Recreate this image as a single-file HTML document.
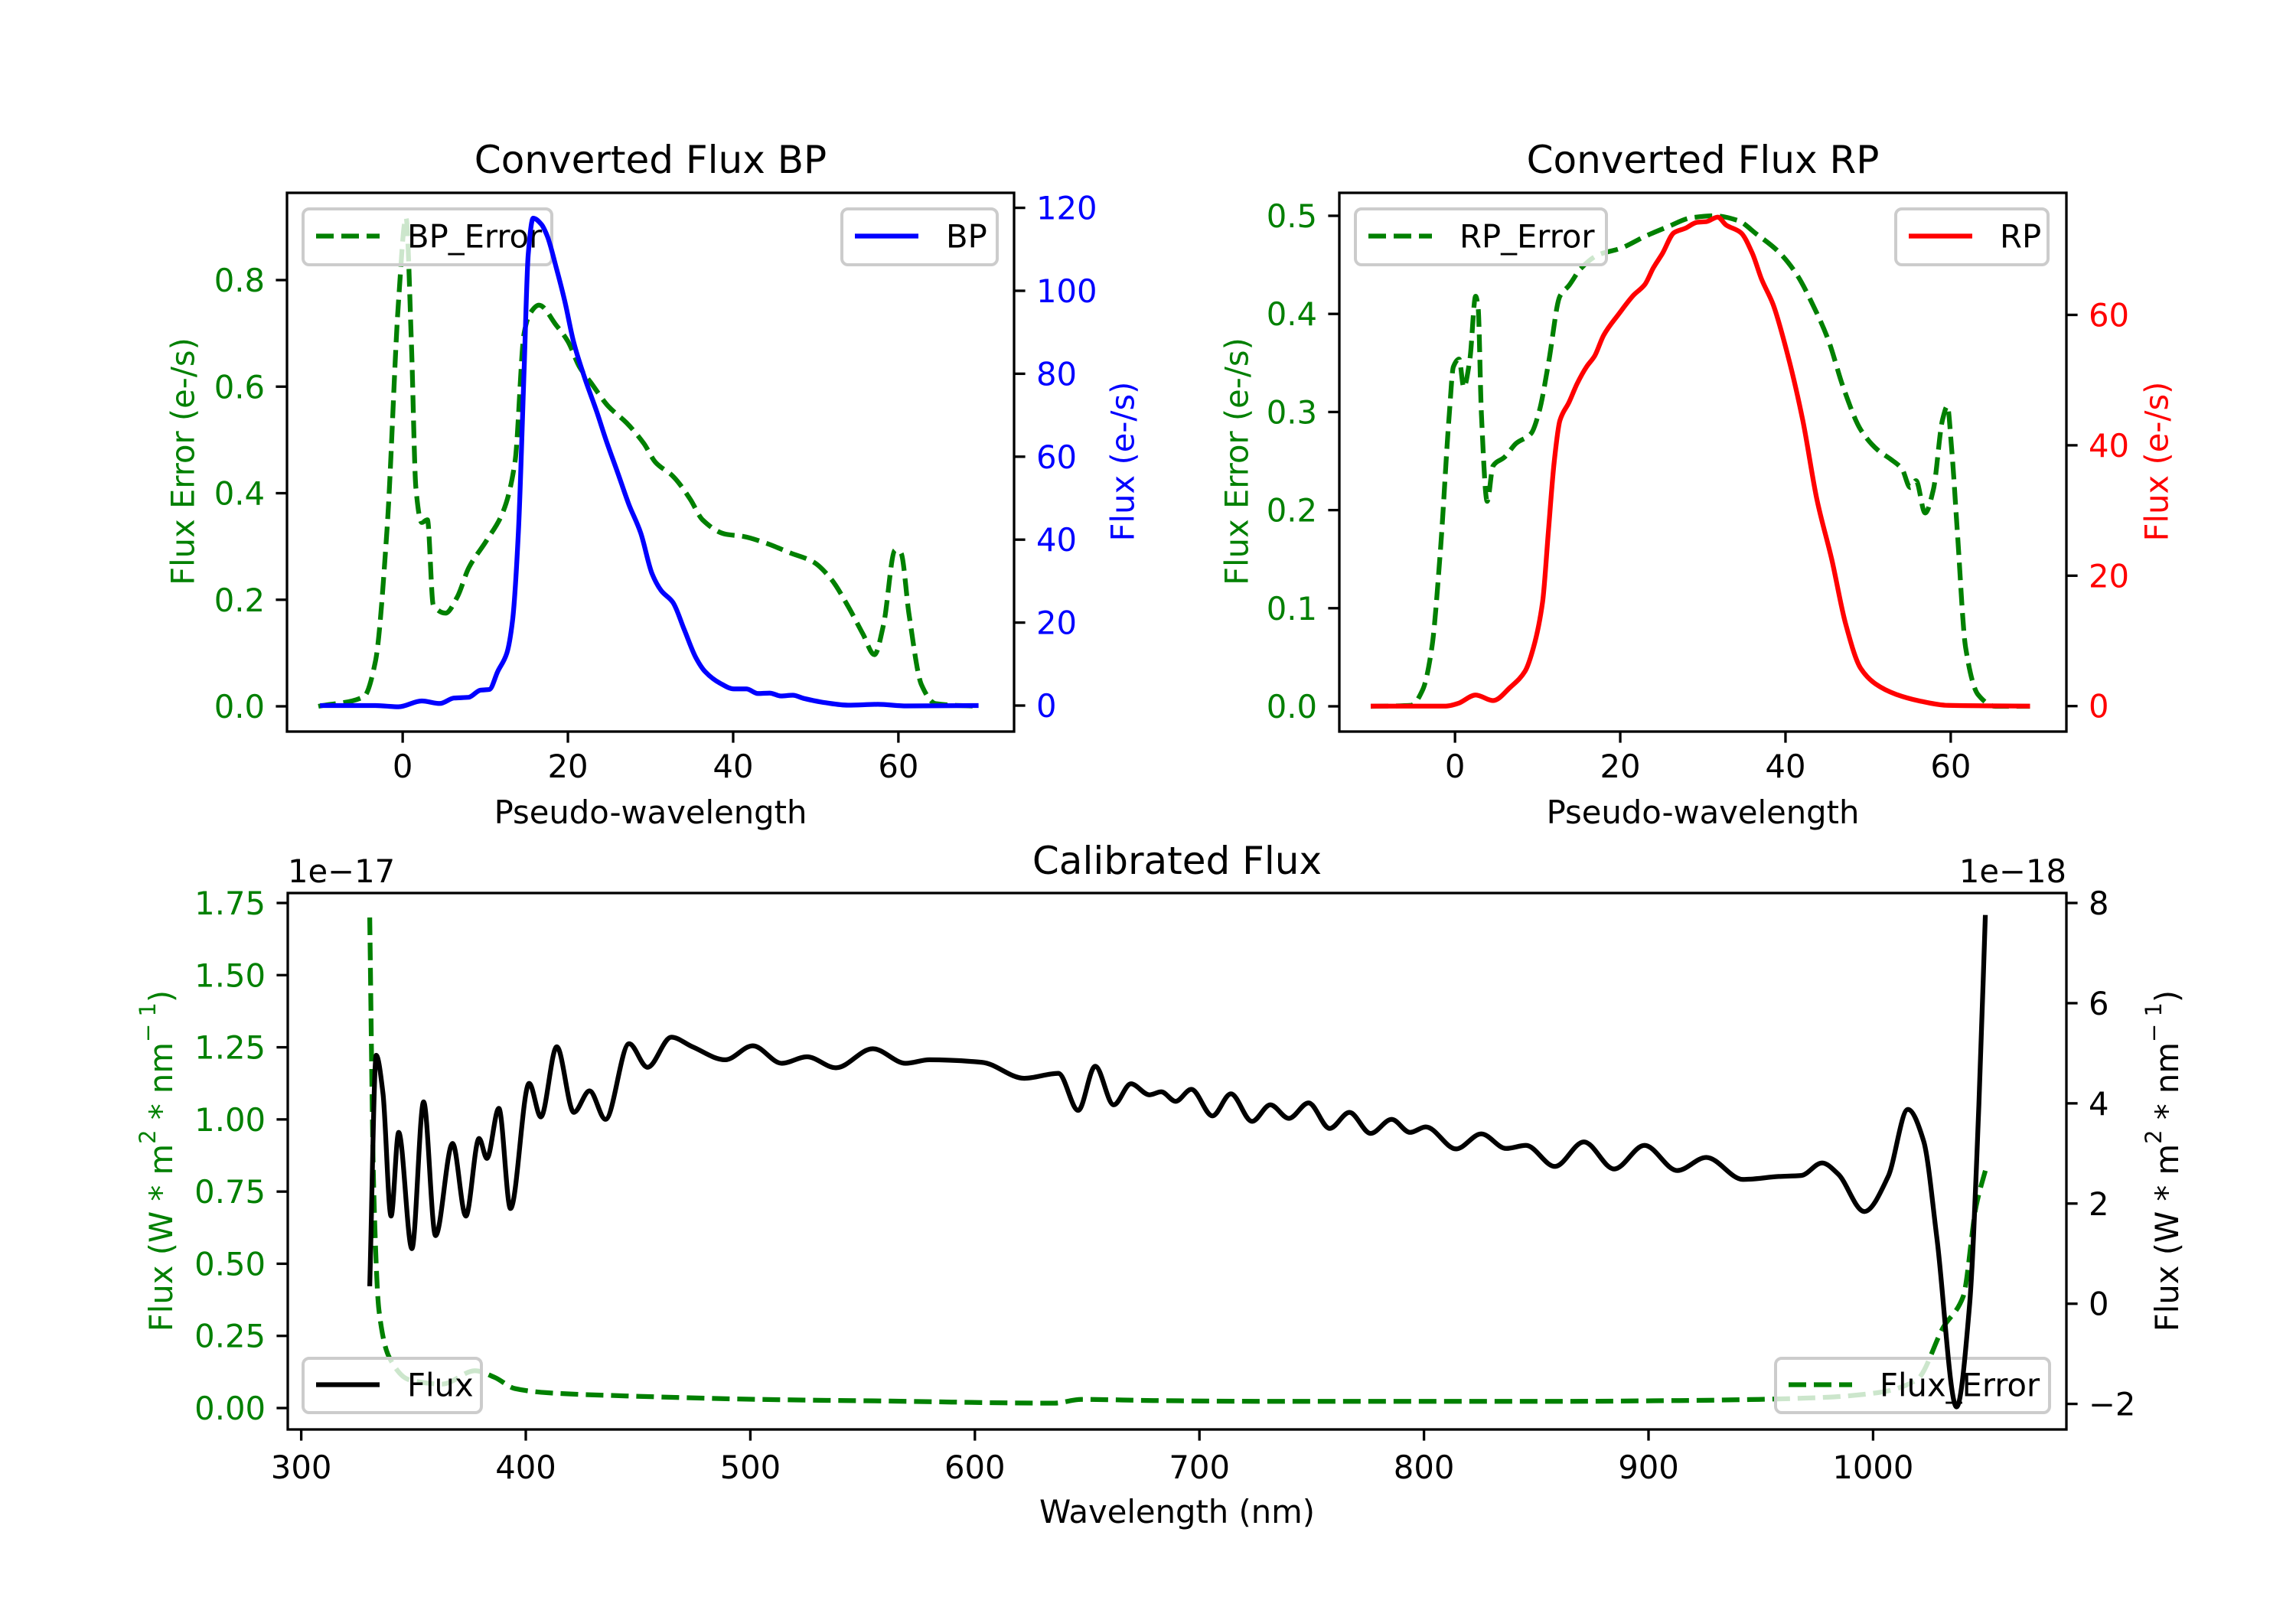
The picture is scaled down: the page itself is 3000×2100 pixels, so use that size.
<!DOCTYPE html>
<html><head><meta charset="utf-8"><style>
html,body{margin:0;padding:0;background:#fff;}
svg{display:block;font-family:"DejaVu Sans","Liberation Sans",sans-serif;}
</style></head><body>
<svg id="fig" width="3000" height="2100" viewBox="0 0 3000 2100" xmlns="http://www.w3.org/2000/svg">
<rect width="3000" height="2100" fill="#fff"/>
<defs>
<clipPath id="cBP"><rect x="375" y="252" width="950" height="704"/></clipPath>
<clipPath id="cRP"><rect x="1750" y="252" width="950" height="704"/></clipPath>
<clipPath id="cCal"><rect x="376" y="1167" width="2324" height="701"/></clipPath>
</defs>
<g id="layer"></g>
</svg>
<script>
// ---- BP data ----
const bpErrX=[-10.2,-4.7,-3.3,-1.9,-0.5,0.4,1.06,1.6,2.3,3,3.7,5.2,6.6,8,10.1,12.2,13.6,14.7,15.4,16.5,18.6,20,21.4,22.8,24.9,27.1,29.2,30.6,32.7,34.8,36.3,39.1,41.2,44,46.9,49.7,51.8,53.9,55.7,57.1,58.2,59.6,60.3,61.3,62.8,64.5,69.5];
const bpErrY=[0,0.018,0.084,0.33,0.76,0.917,0.68,0.41,0.345,0.35,0.19,0.175,0.205,0.26,0.31,0.367,0.46,0.70,0.737,0.753,0.715,0.685,0.637,0.607,0.563,0.532,0.493,0.458,0.432,0.389,0.35,0.323,0.319,0.306,0.288,0.271,0.24,0.188,0.136,0.097,0.153,0.293,0.288,0.171,0.04,0.005,0];
const bpX=[-10,-3.3,-0.5,2.3,4.5,6.2,8,9.4,10.5,11.5,12.6,13.3,14,14.7,15.2,15.8,16.8,17.5,18.6,19.6,20.7,22.1,23.5,24.6,26,27.4,28.8,30.2,31.3,32.7,34.1,35.5,36.6,38.4,40.1,41.6,43,44.4,45.8,47.2,48.6,51.1,53.9,57.5,61,69.7];
const bpY=[0,0,-0.3,1.1,0.5,1.8,2,3.7,3.9,8.2,12.6,20.5,41.7,80.9,108.8,117.5,116,113.2,105.5,97.7,87.6,78.6,70.8,64.1,56.3,48.4,41.7,31.7,27.7,24.9,18.2,11.5,8.2,5.4,4,4,2.9,3,2.3,2.5,1.7,0.7,0.1,0.3,-0.1,0];
// ---- RP data ----
const rpErrX=[-10.2,-5.3,-3.9,-2.8,-1.8,-0.7,-0.2,0.5,1.06,1.8,2.5,2.8,3.2,3.9,4.6,6,7.4,9.2,10.2,11.3,12.7,13.8,15.2,17.3,20.1,23,25.8,28.6,31.4,34.3,36.4,39.2,41.3,43.5,45.2,47,49.1,51.2,52.7,54.1,55.1,55.8,56.9,57.9,59,59.6,60.1,60.8,61.8,63.3,65.4,69.6];
const rpErrY=[0,0.001,0.017,0.06,0.155,0.297,0.346,0.354,0.325,0.354,0.418,0.406,0.297,0.209,0.245,0.254,0.268,0.278,0.301,0.349,0.418,0.429,0.446,0.46,0.467,0.479,0.489,0.498,0.5,0.495,0.482,0.463,0.441,0.406,0.373,0.325,0.282,0.261,0.252,0.242,0.223,0.23,0.197,0.221,0.292,0.306,0.264,0.178,0.06,0.012,0,0];
const rpX=[-10.2,-1.1,0.35,2.5,4.6,6.7,8.5,9.5,10.6,11.3,12,12.7,13.8,14.8,15.9,16.9,18,19.8,21.6,23,24,25.1,26.5,27.9,29.3,30.4,31.8,32.8,34.6,36,37.1,38.5,40.3,42.1,43.8,45.6,47.3,49.1,50.9,53.4,56.2,59.7,69.6];
const rpY=[0,0,0.4,1.7,0.85,2.9,5.4,9,16,26.7,37.4,43.8,46.6,49.5,52,53.7,56.9,60.1,63,64.7,67.2,69.4,72.6,73.3,74.2,74.3,75,73.8,72.6,69.4,65.5,61.6,53.7,43.8,31.7,22.5,12.5,5.8,3.4,1.8,0.8,0.1,0];
// ---- Calibrated data ----
const calX=[330.5,333.4,336.4,340,343.4,349.3,354.5,359.8,367.4,373.3,379.2,382.7,388,393.2,401.5,406.7,413.8,421.4,428.4,435.5,446,454.2,464.8,474.2,488.8,501.1,514,525.2,538.1,554.5,569.2,579.7,603.2,622,637.2,646,653.6,661.8,669.5,677.7,683,689.4,696.4,705.8,714,723.4,731.6,739.8,748.6,758,766.8,776.2,785.6,793.8,800.8,814.3,825.5,836.6,845.4,858.3,871.2,884.7,898.2,912.8,925.7,942.1,958,968,977.3,984.4,996.1,1006.7,1015.5,1022.5,1028.4,1037.2,1043,1047.1,1050];
const calFlux=[0.35,4.96,4.2,1.75,3.42,1.1,4.03,1.36,3.2,1.75,3.3,2.9,3.9,1.9,4.4,3.73,5.13,3.82,4.25,3.68,5.19,4.72,5.32,5.13,4.87,5.15,4.8,4.93,4.71,5.09,4.8,4.87,4.82,4.5,4.6,3.86,4.74,3.97,4.39,4.17,4.23,4.04,4.28,3.75,4.19,3.64,3.97,3.7,4.01,3.5,3.82,3.4,3.68,3.42,3.53,3.09,3.39,3.1,3.16,2.74,3.23,2.69,3.16,2.66,2.92,2.48,2.54,2.56,2.81,2.59,1.84,2.54,3.88,3.25,1.32,-2.06,0,3.95,7.76];
const calErrX=[330.5,332.3,334.6,339.3,348.1,362.7,377.4,386.2,395,409.7,444.9,503.5,562.1,635.4,647.2,679.4,738,855.3,913.9,949.1,972.6,1001.9,1019.5,1031.3,1040.1,1045.9,1050.6];
const calErrY=[1.70,0.75,0.34,0.174,0.098,0.083,0.129,0.106,0.068,0.053,0.042,0.030,0.024,0.017,0.03,0.026,0.023,0.023,0.026,0.03,0.035,0.053,0.098,0.28,0.386,0.70,0.84];
// ticks
const pwTicks=[0,20,40,60];
const bpErrTicks=[0.0,0.2,0.4,0.6,0.8];
const bpTicks=[0,20,40,60,80,100,120];
const rpErrTicks=[0.0,0.1,0.2,0.3,0.4,0.5];
const rpTicks=[0,20,40,60];
const wlTicks=[300,400,500,600,700,800,900,1000];
const calErrTicks=[0,0.25,0.5,0.75,1.0,1.25,1.5,1.75];
const calFluxTicks=[-2,0,2,4,6,8];

const NS="http://www.w3.org/2000/svg";
const layer=document.getElementById('layer');
function el(tag,attrs,parent,text){const e=document.createElementNS(NS,tag);for(const k in attrs)e.setAttribute(k,attrs[k]);if(text!==undefined)e.textContent=text;(parent||layer).appendChild(e);return e;}
function lin(d0,d1,p0,p1){return v=>p0+(v-d0)*(p1-p0)/(d1-d0);}
const bpx=lin(-14,74,375,1325), rpx=lin(-14,74,1750,2700);
const bpEy=lin(0,0.8,923,366), bpFy=lin(0,120,922,271.6);
const rpEy=lin(0,0.5,923,282), rpFy=lin(0,20,922.7,752.3);
const cx=lin(300,1000,393.6,393.6+700*2.934);
const cEy=lin(0,1.75,1840,1180), cFy=lin(-2,8,1834.6,1180);
const FS=41.7;

function pathD(xs,ys,sx,sy){
  const X=xs.map(sx), Y=ys.map(sy), n=X.length;
  const m=[], t=[];
  for(let i=0;i<n-1;i++){const h=X[i+1]-X[i];m.push(h?(Y[i+1]-Y[i])/h:0);}
  for(let i=0;i<n;i++){
    if(i===0)t.push(m[0]);else if(i===n-1)t.push(m[n-2]);
    else{const m0=m[i-1],m1=m[i];
      if(m0*m1<=0)t.push(0);
      else{const h0=X[i]-X[i-1],h1=X[i+1]-X[i];t.push(3*(h0+h1)/((2*h1+h0)/m0+(h1+2*h0)/m1));}}
  }
  let d='M'+X[0].toFixed(1)+','+Y[0].toFixed(1);
  for(let i=0;i<n-1;i++){const h=(X[i+1]-X[i])/3;
    d+='C'+(X[i]+h).toFixed(1)+','+(Y[i]+t[i]*h).toFixed(1)+' '+(X[i+1]-h).toFixed(1)+','+(Y[i+1]-t[i+1]*h).toFixed(1)+' '+X[i+1].toFixed(1)+','+Y[i+1].toFixed(1);}
  return d;
}
function line(xs,ys,sx,sy,color,dashed,clip,name){
  const p=el('path',{d:pathD(xs,ys,sx,sy),fill:'none',stroke:color,'stroke-width':6.25,'stroke-linejoin':'round','clip-path':'url(#'+clip+')'});
  if(dashed)p.setAttribute('stroke-dasharray','23,10');
  
  
}
function frame(x0,y0,x1,y1,name){const r=el('rect',{x:x0,y:y0,width:x1-x0,height:y1-y0,fill:'none',stroke:'#000','stroke-width':3.3});
  
  }
function xticks(ticks,sx,yb,ly){ticks.forEach(t=>{const x=sx(t);el('line',{x1:x,x2:x,y1:yb,y2:yb+14.6,stroke:'#000','stroke-width':3.3});
  const tx=el('text',{x:x,y:ly,'text-anchor':'middle','font-size':FS,fill:'#000'},layer,String(t));
  
  });}
function yticks(ticks,sy,xa,side,color,fmt){ticks.forEach(t=>{const y=sy(t);const d=side==='left'?-14.6:14.6;
  el('line',{x1:xa,x2:xa+d,y1:y,y2:y,stroke:'#000','stroke-width':3.3});
  const tx=el('text',{x:side==='left'?xa-29:xa+29,y:y+15,'text-anchor':side==='left'?'end':'start','font-size':FS,fill:color},layer,fmt(t));
  
  });}
function txt(s,x,y,opts,name){const t=el('text',Object.assign({x:x,y:y,'font-size':FS,fill:'#000'},opts||{}),layer,s);
  
  return t;}
function vlabel(s,x,y,color,name){const t=el('text',{x:0,y:0,'font-size':FS,fill:color,'text-anchor':'middle','dominant-baseline':'central',transform:'translate('+x+','+y+') rotate(-90)'},layer,s);
  
  return t;}
function legend(x0,y0,x1,y1,label,color,dashed,name){
  const g=el('g',{});
  
  
  el('rect',{x:x0,y:y0,width:x1-x0,height:y1-y0,rx:8,fill:'#fff','fill-opacity':0.8,stroke:'#cccccc','stroke-width':4},g);
  const ly=(y0+y1)/2-1;
  const l=el('line',{x1:x0+17,x2:x0+100,y1:ly,y2:ly,stroke:color,'stroke-width':6.25},g);
  if(dashed)l.setAttribute('stroke-dasharray','23,10');
  el('text',{x:x0+136,y:ly+15,'font-size':FS,fill:'#000'},g,label);
}
const f1=v=>v.toFixed(1);
const f2=v=>v.toFixed(2);
const minus=v=>v<0?'\u2212'+Math.abs(v):String(v);

// ===== BP panel =====
line(bpErrX,bpErrY,bpx,bpEy,'#008000',true,'cBP','bp-error-line');
legend(396,273,721,346,'BP_Error','#008000',true,'bp-error-legend');
line(bpX,bpY,bpx,bpFy,'#0000ff',false,'cBP','bp-flux-line');
legend(1100,273,1303,346,'BP','#0000ff',false,'bp-legend');
frame(375,252,1325,956,'bp-axes-frame');
xticks(pwTicks,bpx,956,1016);
yticks(bpErrTicks,bpEy,375,'left','#008000',f1);
yticks(bpTicks,bpFy,1325,'right','#0000ff',String);
txt('Converted Flux BP',850,226,{'font-size':50,'text-anchor':'middle'},'bp-title');
txt('Pseudo-wavelength',850,1076,{'text-anchor':'middle'},'bp-x-axis-title');
vlabel('Flux Error (e-/s)',239,603,'#008000','bp-left-y-axis-title');
vlabel('Flux (e-/s)',1467,603,'#0000ff','bp-right-y-axis-title');

// ===== RP panel =====
line(rpErrX,rpErrY,rpx,rpEy,'#008000',true,'cRP','rp-error-line');
legend(1771,273,2099,346,'RP_Error','#008000',true,'rp-error-legend');
line(rpX,rpY,rpx,rpFy,'#ff0000',false,'cRP','rp-flux-line');
legend(2477,273,2676,346,'RP','#ff0000',false,'rp-legend');
frame(1750,252,2700,956,'rp-axes-frame');
xticks(pwTicks,rpx,956,1016);
yticks(rpErrTicks,rpEy,1750,'left','#008000',f1);
yticks(rpTicks,rpFy,2700,'right','#ff0000',String);
txt('Converted Flux RP',2225,226,{'font-size':50,'text-anchor':'middle'},'rp-title');
txt('Pseudo-wavelength',2225,1076,{'text-anchor':'middle'},'rp-x-axis-title');
vlabel('Flux Error (e-/s)',1616,603,'#008000','rp-left-y-axis-title');
vlabel('Flux (e-/s)',2818,603,'#ff0000','rp-right-y-axis-title');

// ===== Calibrated panel =====
line(calErrX,calErrY,cx,cEy,'#008000',true,'cCal','flux-error-line');
legend(396,1775,629,1846,'Flux','#000000',false,'flux-legend');
legend(2320,1775,2678,1846,'Flux_Error','#008000',true,'flux-error-legend');
line(calX,calFlux,cx,cFy,'#000000',false,'cCal','flux-line');
frame(376,1167,2700,1868,'calibrated-axes-frame');
xticks(wlTicks,cx,1868,1932);
yticks(calErrTicks,cEy,376,'left','#008000',f2);
yticks(calFluxTicks,cFy,2700,'right','#000000',minus);
txt('Calibrated Flux',1538,1142,{'font-size':50,'text-anchor':'middle'},'calibrated-title');
txt('Wavelength (nm)',1538,1990,{'text-anchor':'middle'},'calibrated-x-axis-title');
txt('1e\u221217',376,1153,{},'left-offset-text');
txt('1e\u221218',2700,1153,{'text-anchor':'end'},'right-offset-text');
function supLabel(x,y,color,name){
  const t=el('text',{x:0,y:0,'font-size':FS,fill:color,'text-anchor':'middle','dominant-baseline':'central',transform:'translate('+x+','+y+') rotate(-90)'});
  
  
  el('tspan',{},t,'Flux (W * m');
  el('tspan',{'baseline-shift':'super','font-size':29},t,'2');
  el('tspan',{},t,' * nm');
  el('tspan',{'baseline-shift':'super','font-size':29},t,'\u2212 1');
  el('tspan',{},t,')');
}
supLabel(210,1517,'#008000','calibrated-left-y-axis-title');
supLabel(2831,1517,'#000000','calibrated-right-y-axis-title');
</script>
</body></html>
